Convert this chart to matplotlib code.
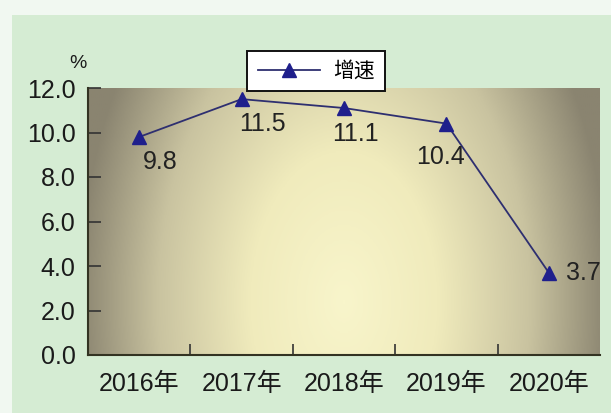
import matplotlib
matplotlib.use("Agg")
import matplotlib.pyplot as plt
import numpy as np
from matplotlib.colors import LinearSegmentedColormap
from matplotlib.patches import Rectangle

categories = ["2016年", "2017年", "2018年", "2019年", "2020年"]
values = [9.8, 11.5, 11.1, 10.4, 3.7]
yticks = [0.0, 2.0, 4.0, 6.0, 8.0, 10.0, 12.0]
series_name = "增速"

plt.rcParams['font.family'] = ['Liberation Sans', 'Noto Sans CJK SC', 'DejaVu Sans']

fig = plt.figure(figsize=(6.11, 4.13), dpi=100)
fig.patch.set_facecolor('#f1f8f1')
fig.patches.append(Rectangle((12/611, 0), 1, 1 - 15/413, transform=fig.transFigure,
                             facecolor='#d5ecd3', edgecolor='none', zorder=-10))

ax = fig.add_axes([88/611, 1 - 355/413, 512/611, 267/413])
ax.set_facecolor('none')

# gradient background
nx, ny = 300, 200
xx, yy = np.meshgrid(np.linspace(0, 1, nx), np.linspace(0, 1, ny))
d = np.sqrt(((xx - 0.5) / 0.52) ** 2 + ((yy - 0.2) / 1.6) ** 2)
d = np.clip(d, 0, 1)
cmap = LinearSegmentedColormap.from_list('g', [(0, '#f8f5cb'), (0.35, '#f0ebbc'),
                                               (0.7, '#c9c3a0'), (1.0, '#8a8470')])
ax.imshow(d, cmap=cmap, extent=[0, 1, 0, 1], origin='lower', transform=ax.transAxes,
          aspect='auto', zorder=0, interpolation='bilinear')

x = np.arange(len(categories))
ax.plot(x, values, color='#2e2f70', lw=1.3, marker='^', markersize=10,
        markerfacecolor='#1f1f8c', markeredgecolor='#1f1f8c', label=series_name, zorder=3)

offsets = [(15, -18), (15, -18), (8, -19), (-4, -24), (25, 0)]
for xi, v, off in zip(x, values, offsets):
    ax.annotate(f"{v:.1f}", (xi, v), xytext=off, textcoords='offset points',
                ha='center', va='center', fontsize=18, color='#222222', zorder=4)

ax.set_xlim(-0.5, len(categories) - 0.5)
ax.set_ylim(0, 12)
ax.set_yticks(yticks)
ax.set_yticklabels([f"{t:.1f}" for t in yticks], fontsize=18, color='#1a1a1a')
ax.set_xticks(x)
ax.set_xticklabels(categories, fontsize=18, color='#1a1a1a')
ax.tick_params(axis='x', length=0, pad=12)
ax.set_xticks(np.arange(0.5, len(categories) - 0.5, 1), minor=True)
ax.tick_params(axis='x', which='minor', direction='in', length=8, width=1.2, color='#333333')
ax.tick_params(axis='y', direction='in', length=9, width=1.2, color='#333333', pad=9)

for s in ['top', 'right']:
    ax.spines[s].set_visible(False)
for s in ['left', 'bottom']:
    ax.spines[s].set_color('#333322')
    ax.spines[s].set_linewidth(1.5)

fig.text(78/611, 1 - 63/413, "%", fontsize=14, ha='center', va='center', color='#1a1a1a')

leg = ax.legend(loc='center', bbox_to_anchor=(316/611, 1 - 71/413), bbox_transform=fig.transFigure,
                fontsize=15, frameon=True, fancybox=False, handlelength=3.0, borderpad=0.5,
                handletextpad=0.6, borderaxespad=0)
leg.get_frame().set_edgecolor('#111111')
leg.get_frame().set_linewidth(1.4)
leg.get_frame().set_facecolor('white')
leg.get_frame().set_alpha(1)

fig.savefig('out.png', dpi=100)
